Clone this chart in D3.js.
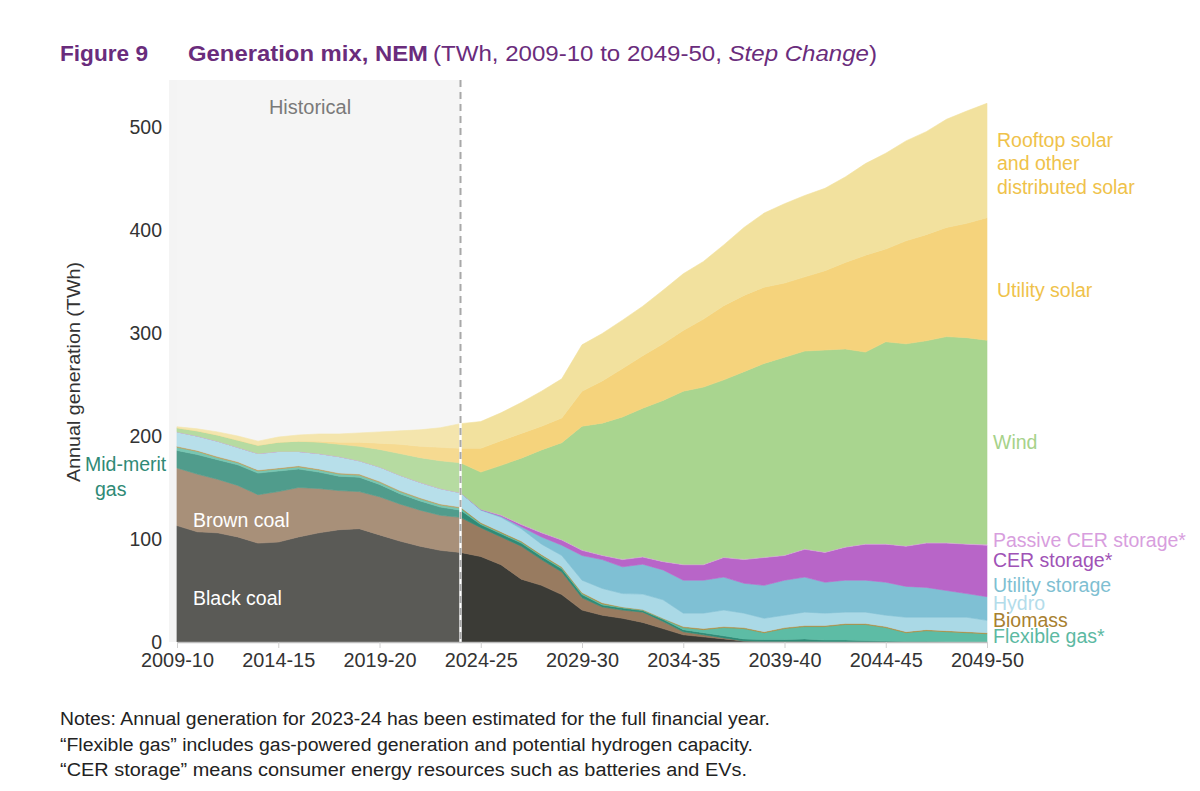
<!DOCTYPE html>
<html>
<head>
<meta charset="utf-8">
<script src="https://cdn.jsdelivr.net/npm/d3@7"></script>
<style>
  html, body { margin: 0; padding: 0; background: #ffffff; }
  svg { display: block; font-family: "Liberation Sans", Arial, sans-serif; }
</style>
</head>
<body>
<svg id="chart" width="1200" height="791"></svg>
<script>
// ---------------- DATA ----------------
const years = ["2009-10","2010-11","2011-12","2012-13","2013-14","2014-15","2015-16","2016-17","2017-18","2018-19",
  "2019-20","2020-21","2021-22","2022-23","2023-24","2024-25","2025-26","2026-27","2027-28","2028-29",
  "2029-30","2030-31","2031-32","2032-33","2033-34","2034-35","2035-36","2036-37","2037-38","2038-39",
  "2039-40","2040-41","2041-42","2042-43","2043-44","2044-45","2045-46","2046-47","2047-48","2048-49","2049-50"];
const tickLabels = ["2009-10","2014-15","2019-20","2024-25","2029-30","2034-35","2039-40","2044-45","2049-50"];
const yTicks = [0, 100, 200, 300, 400, 500];
const historicalEnd = "2023-24";

const blackCoal = [113,107,106,102,96,97,102,106,109,110,104,98,93,89,87,
  83,75,61,55,46,31,26,23,19,13,7,5,3,1,0.5,0.5,0.5,0,0,0,0,0,0,0,0,0];
const brownCoal = [56,56,52,50,47,49,48,43,38,36,37,36,35,34,34,
  28,27,32,25,22,12,8,8,10,7,3,2,1,0,0,0,0,0,0,0,0,0,0,0,0,0];
const midMeritGas = [17,19,19,20,21,20,18,16,14,14,12,10,9,8,7,
  3,3,3,3,3,3,2,2,1.5,2,2,2,2,2,2,2,2.5,2,2,1.5,1,0.5,0.5,0,0,0];
const flexibleGas = [3,3,2,2,2,2,2,2,2,2,2,2,2,2,2,
  1,1,1,1,1,1,1,0.5,0.5,0.5,2,3,8,10,6.5,10.5,12,13,15,15.5,13,8.5,10.5,10,9,8];
const biomass = [1,1,1,1,1,1,1,1,1,1,1,1,1,1,1,
  1,1,1,1,1,1,1,0.5,0.5,0.5,1,1,1,1,1,1,1,1,1,1,1,1,1,1,1,1];
const hydro = [14,14,15,14,16,16,14,15,16,13,14,15,15,15,14,
  12,14,12,10,11,12,14,13,15,18,13,15,16,14,13,12,13,12,11,11,11,14,12,13,14,12];
const utilityStorage = [0,0,0,0,0,0,0,0,0,0,0,0,0,0,0,
  0.5,1,2,7,10,24,28,26,29,29,32,32,32,29,32,34,34,30,31,31,32,30,29,26,23,23];
const cerStorage = [0,0,0,0,0,0,0,0,0,0,0,0,0,0,0,
  0.5,1,2,4,5,5,4,7,7,8,15,15,19,23,27,24,27,29,32,35,37,39,43,46,48,50];
const passiveCer = [0,0,0,0,0,0,0,0,0,0,0,0,0,0,0,
  0,0.5,0.5,0.5,0.5,0.5,0.5,0.5,0.5,0.5,0.5,0.5,0.5,0.5,0.5,0.5,0.5,0.5,0.5,0.5,0.5,0.5,0.5,0.5,0.5,1];
const wind = [4,5,6,7,8,9,10,11,12,14,17,21,24,27,29,
  36,48,64,80,94,120,128,138,144,156,168,172,172,182,188,192,192,196,192,186,196,196,196,200,200,198];
const utilitySolar = [0,0,0,0,0,0,0,1,2,4,6,9,11,13,14,
  23,24,24,23,24,34,41,47,51,55,59,66,72,74,74,72,72,77,84,94,90,100,103,106,111,119];
const rooftopSolar = [1,2,3,4,4,5,6,7,8,9,11,13,16,19,24,
  26,27,30,34,38,45,46,47,48,52,55,56,59,66,72,77,79,80,83,89,93,97,100,105,109,111];

const seriesNames = ["Black coal","Brown coal","Mid-merit gas","Flexible gas*","Biomass","Hydro",
  "Utility storage","CER storage*","Passive CER storage*","Wind","Utility solar","Rooftop solar"];
const seriesValues = [blackCoal, brownCoal, midMeritGas, flexibleGas, biomass, hydro,
  utilityStorage, cerStorage, passiveCer, wind, utilitySolar, rooftopSolar];
const seriesColors = ["#3b3b36","#987b60","#2f8a76","#5dbca5","#b08a3a","#aad9e6",
  "#7fc0d4","#b865c8","#dca6e2","#a9d58f","#f5d37c","#f2e19e"];

// ---------------- LAYOUT ----------------
const svg = d3.select("#chart");
const x0 = 177, x1 = 987, yBase = 642, yTop500 = 127;
const x = d3.scalePoint().domain(years).range([x0, x1]);
const y = d3.scaleLinear().domain([0, 500]).range([yBase, yTop500]);

const table = years.map((yr, i) => {
  const row = { year: yr };
  seriesNames.forEach((n, k) => row[n] = seriesValues[k][i]);
  return row;
});
const layers = d3.stack().keys(seriesNames)(table);

// historical background
const xh = x(historicalEnd);
svg.append("rect").attr("x", 169).attr("y", 80).attr("width", xh - 169).attr("height", yBase - 80)
  .attr("fill", "#f4f4f4");

const area = d3.area()
  .x(d => x(d.data.year))
  .y0(d => y(d[0]))
  .y1(d => y(d[1]))
  .curve(d3.curveLinear);

svg.append("g").selectAll("path").data(layers).join("path")
  .attr("d", area)
  .attr("fill", (d, i) => seriesColors[i])
  .attr("stroke", (d, i) => seriesColors[i])
  .attr("stroke-width", 0.6);

// lighten historical part
svg.append("rect").attr("x", x0).attr("y", 80).attr("width", xh - x0).attr("height", yBase - 80)
  .attr("fill", "#ffffff").attr("opacity", 0.16);

// historical divider
svg.append("line").attr("x1", xh).attr("x2", xh).attr("y1", y(220)).attr("y2", yBase)
  .attr("stroke", "#ffffff").attr("stroke-width", 2.5);
svg.append("line").attr("x1", xh).attr("x2", xh).attr("y1", 80).attr("y2", yBase)
  .attr("stroke", "#a8a8a8").attr("stroke-width", 2).attr("stroke-dasharray", "7,5");

svg.append("text").attr("x", 310).attr("y", 114).attr("text-anchor", "middle")
  .attr("font-size", 20).attr("fill", "#7a7a7a").text("Historical");

// x axis
const xAxis = d3.axisBottom(x).tickValues(tickLabels).tickSize(6).tickSizeOuter(0).tickPadding(5);
const gx = svg.append("g").attr("transform", `translate(0,${yBase})`).call(xAxis);
gx.select(".domain").attr("stroke", "#bdbdbd").attr("stroke-width", 1.5);
gx.selectAll(".tick line").attr("stroke", "#d0d0d0");
gx.selectAll(".tick text").attr("font-size", 19.5).attr("fill", "#333")
  .attr("font-family", "Liberation Sans, Arial, sans-serif")
  .attr("textLength", 73).attr("lengthAdjust", "spacingAndGlyphs");

// y axis
const yAxis = d3.axisLeft(y).tickValues(yTicks).tickSize(0).tickPadding(0);
const gy = svg.append("g").attr("transform", `translate(162,0)`).call(yAxis);
gy.select(".domain").remove();
gy.selectAll(".tick text").attr("font-size", 19.5).attr("fill", "#333")
  .attr("font-family", "Liberation Sans, Arial, sans-serif");

svg.append("text").attr("transform", `translate(80,372) rotate(-90)`).attr("text-anchor", "middle")
  .attr("font-size", 19).attr("fill", "#333")
  .attr("textLength", 220).attr("lengthAdjust", "spacingAndGlyphs")
  .text("Annual generation (TWh)");

// title
const title = svg.append("g").attr("fill", "#6a2c7c");
title.append("text").attr("x", 60).attr("y", 61).attr("font-size", 22).attr("font-weight", "bold")
  .attr("textLength", 88).attr("lengthAdjust", "spacingAndGlyphs").text("Figure 9");
title.append("text").attr("x", 188).attr("y", 61).attr("font-size", 22).attr("font-weight", "bold")
  .attr("textLength", 240).attr("lengthAdjust", "spacingAndGlyphs").text("Generation mix, NEM");
const t3 = title.append("text").attr("x", 433).attr("y", 61).attr("font-size", 22)
  .attr("textLength", 444).attr("lengthAdjust", "spacingAndGlyphs");
t3.append("tspan").text("(TWh, 2009-10 to 2049-50, ");
t3.append("tspan").attr("font-style", "italic").text("Step Change");
t3.append("tspan").text(")");

// series labels (right)
const rightLabels = [
  { t: "Rooftop solar", x: 997, y: 147, c: "#efc24a" },
  { t: "and other", x: 997, y: 170, c: "#efc24a" },
  { t: "distributed solar", x: 997, y: 194, c: "#efc24a" },
  { t: "Utility solar", x: 997, y: 297, c: "#efc24a" },
  { t: "Wind", x: 993, y: 449, c: "#a6d28a" },
  { t: "Passive CER storage*", x: 993, y: 547, c: "#d89ede" },
  { t: "CER storage*", x: 993, y: 567, c: "#a052b6" },
  { t: "Utility storage", x: 993, y: 592, c: "#7fbfd2" },
  { t: "Hydro", x: 993, y: 610, c: "#b3dcea" },
  { t: "Biomass", x: 993, y: 627, c: "#a8802f" },
  { t: "Flexible gas*", x: 993, y: 643, c: "#5cb9a2" }
];
svg.append("g").selectAll("text").data(rightLabels).join("text")
  .attr("x", d => d.x).attr("y", d => d.y).attr("fill", d => d.c)
  .attr("font-size", 19.5).text(d => d.t);

// left labels
svg.append("text").attr("x", 85).attr("y", 471).attr("font-size", 19.5).attr("fill", "#2f8a76").text("Mid-merit");
svg.append("text").attr("x", 95).attr("y", 496).attr("font-size", 19.5).attr("fill", "#2f8a76").text("gas");
svg.append("text").attr("x", 193).attr("y", 527).attr("font-size", 19.5).attr("fill", "#ffffff").text("Brown coal");
svg.append("text").attr("x", 193).attr("y", 605).attr("font-size", 19.5).attr("fill", "#ffffff").text("Black coal");

// notes
const notes = [
  { t: "Notes: Annual generation for 2023-24 has been estimated for the full financial year.", w: 710 },
  { t: "\u201CFlexible gas\u201D includes gas-powered generation and potential hydrogen capacity.", w: 693 },
  { t: "\u201CCER storage\u201D means consumer energy resources such as batteries and EVs.", w: 687 }
];
svg.append("g").selectAll("text").data(notes).join("text")
  .attr("x", 60).attr("y", (d, i) => 725 + i * 25.5)
  .attr("font-size", 18).attr("fill", "#222")
  .attr("textLength", d => d.w).attr("lengthAdjust", "spacingAndGlyphs")
  .text(d => d.t);
</script>
</body>
</html>
